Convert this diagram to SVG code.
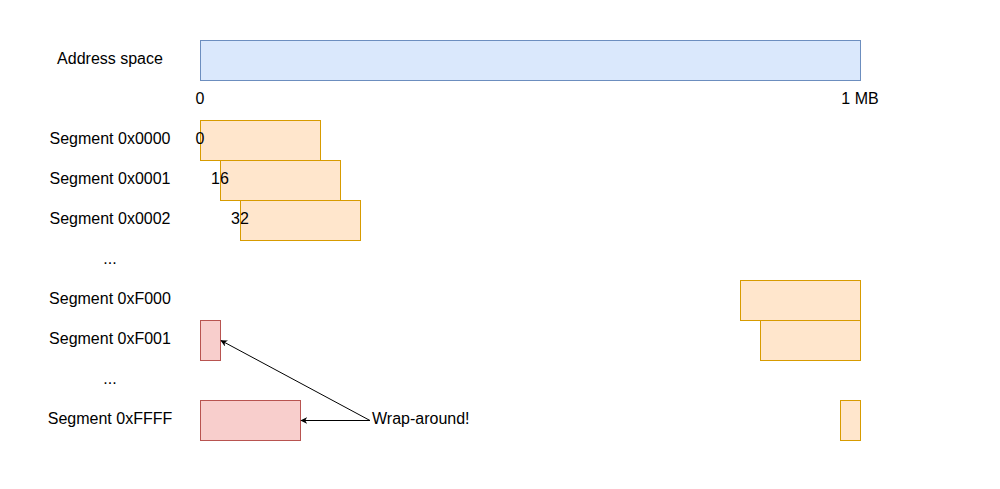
<svg xmlns="http://www.w3.org/2000/svg" width="1000" height="489" viewBox="0 0 1000 489">
<style>
text{font-family:"Liberation Sans",Arial,sans-serif;font-size:16px;fill:#000}
.lbl{text-anchor:middle;dominant-baseline:central}
.blue{fill:#dae8fc;stroke:#6c8ebf;stroke-width:1}
.org{fill:#ffe6cc;stroke:#d79b00;stroke-width:1}
.red{fill:#f8cecc;stroke:#b85450;stroke-width:1}
.conn{stroke:#000;stroke-width:1;fill:none;marker-end:url(#ah)}
</style>
<defs>
<marker id="ah" viewBox="0 0 10 10" refX="9" refY="5" markerWidth="7" markerHeight="7" orient="auto" markerUnits="userSpaceOnUse">
<path d="M0,0 L10,5 L0,10 L3,5 Z" fill="#000"/>
</marker>
</defs>
<rect width="1000" height="489" fill="#fff"/>
<g id="labels">
<text class="lbl" x="110" y="58">Address space</text>
<text class="lbl" x="110" y="138">Segment 0x0000</text>
<text class="lbl" x="110" y="178">Segment 0x0001</text>
<text class="lbl" x="110" y="218">Segment 0x0002</text>
<text class="lbl" x="110" y="258">...</text>
<text class="lbl" x="110" y="298">Segment 0xF000</text>
<text class="lbl" x="110" y="338">Segment 0xF001</text>
<text class="lbl" x="110" y="378">...</text>
<text class="lbl" x="110" y="418">Segment 0xFFFF</text>
</g>
<g id="address-space">
<rect class="blue" x="200.5" y="40.5" width="660" height="40"/>
<text class="lbl" x="200" y="98">0</text>
<text class="lbl" x="860" y="98">1 MB</text>
</g>
<g id="seg0000">
<rect class="org" x="200.5" y="120.5" width="120" height="40"/>
<text class="lbl" x="200" y="138">0</text>
</g>
<g id="seg0001">
<rect class="org" x="220.5" y="160.5" width="120" height="40"/>
<text class="lbl" x="220" y="178">16</text>
</g>
<g id="seg0002">
<rect class="org" x="240.5" y="200.5" width="120" height="40"/>
<text class="lbl" x="240" y="218">32</text>
</g>
<g id="segF000">
<rect class="org" x="740.5" y="280.5" width="120" height="40"/>
</g>
<g id="segF001">
<rect class="org" x="760.5" y="320.5" width="100" height="40"/>
<rect class="red" x="200.5" y="320.5" width="20" height="40"/>
</g>
<g id="segFFFF">
<rect class="org" x="840.5" y="400.5" width="20" height="40"/>
<rect class="red" x="200.5" y="400.5" width="100" height="40"/>
</g>
<g id="wrap">
<text x="372" y="418" style="dominant-baseline:central">Wrap-around!</text>
</g>
<g id="connectors">
<path class="conn" d="M370,420.5 L301,420.5"/>
<path class="conn" d="M370,420.5 L221,340.5"/>
</g>
</svg>
